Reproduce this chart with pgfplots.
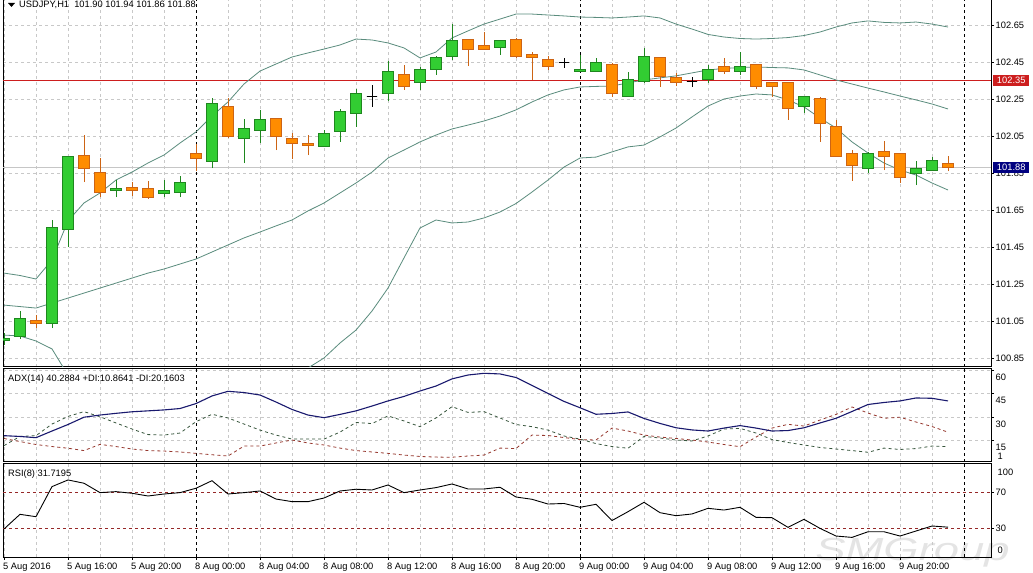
\documentclass[border=0pt]{standalone}
\usepackage{pgfplots}
\pgfplotsset{compat=1.18}
\usepackage{pgfplotstable}
\usepackage{fontspec}
\setmainfont{Liberation Sans}
\definecolor{gFill}{RGB}{50,205,50}
\definecolor{gDark}{RGB}{30,135,30}
\definecolor{oFill}{RGB}{255,140,0}
\definecolor{oDark}{RGB}{205,100,20}
\definecolor{band}{RGB}{90,140,125}
\definecolor{adxc}{RGB}{25,25,110}
\definecolor{pdic}{RGB}{55,85,60}
\definecolor{mdic}{RGB}{150,55,45}
\definecolor{lvl}{RGB}{150,40,40}
\definecolor{pline}{RGB}{205,30,30}
\definecolor{gridc}{RGB}{200,200,200}
\definecolor{navybox}{RGB}{0,0,128}
\definecolor{wmark}{RGB}{228,228,228}

\tikzset{
 wickG/.style={draw=gDark,line width=1bp},
 bodyG/.style={draw=gDark,fill=gFill,line width=1bp},
 wickO/.style={draw=oDark,line width=1bp},
 bodyO/.style={draw=oDark,fill=oFill,line width=1bp},
 wickD/.style={draw=black,line width=1bp},
 bodyD/.style={draw=black,line width=1bp},
}
% \cdl{index}{open}{high}{low}{close}{G|O|D}
\newcommand\cdl[6]{%
 \pgfmathsetmacro\xl{#1-0.32}\pgfmathsetmacro\xr{#1+0.32}%
 \edef\tmp{\noexpand\addplot[wick#6] coordinates {(#1,#4) (#1,#3)};%
 \noexpand\addplot[body#6] coordinates {(\xl,#2) (\xr,#2) (\xr,#5) (\xl,#5)} -- cycle;}%
 \tmp}

\pgfplotstableread{
i up mid lo
0 101.309 101.136 100.974
1 101.296 101.128 100.969
2 101.277 101.120 100.942
3 101.380 101.147 100.899
4 101.591 101.174 100.757
5 101.688 101.201 100.714
6 101.742 101.228 100.714
7 101.812 101.255 100.698
8 101.855 101.282 100.709
9 101.904 101.309 100.714
10 101.947 101.331 100.715
11 102.012 101.358 100.704
12 102.072 101.385 100.698
13 102.158 101.423 100.688
14 102.234 101.461 100.688
15 102.331 101.499 100.667
16 102.401 101.531 100.661
17 102.439 101.564 100.689
18 102.477 101.596 100.715
19 102.499 101.645 100.796
20 102.520 101.688 100.850
21 102.542 101.742 100.931
22 102.574 101.796 101.001
23 102.569 101.855 101.104
24 102.553 101.931 101.228
25 102.526 101.974 101.391
26 102.472 102.018 101.553
27 102.504 102.055 101.596
28 102.580 102.088 101.580
29 102.618 102.109 101.585
30 102.655 102.131 101.607
31 102.682 102.158 101.639
32 102.709 102.191 101.685
33 102.709 102.234 101.747
34 102.704 102.272 101.812
35 102.699 102.299 101.882
36 102.693 102.315 101.931
37 102.691 102.318 101.936
38 102.688 102.320 101.964
39 102.693 102.337 101.991
40 102.699 102.353 102.001
41 102.688 102.364 102.045
42 102.655 102.375 102.093
43 102.628 102.391 102.153
44 102.599 102.407 102.212
45 102.585 102.415 102.250
46 102.577 102.420 102.266
47 102.574 102.423 102.277
48 102.577 102.420 102.272
49 102.582 102.418 102.245
50 102.593 102.407 102.207
51 102.612 102.380 102.147
52 102.639 102.353 102.093
53 102.661 102.331 102.018
54 102.672 102.309 101.958
55 102.664 102.288 101.904
56 102.661 102.266 101.866
57 102.666 102.245 101.839
58 102.655 102.223 101.796
59 102.639 102.196 101.758
}\bands

\pgfplotstableread{
i adx pdi mdi
0 17.9 11.5 16.1
1 17.4 17.4 14.1
2 16.6 17.9 12.2
3 20.9 25.4 10.9
4 25.1 30.3 9.8
5 29.8 33.4 8.3
6 31.2 30.1 12.3
7 32.3 26.1 10.9
8 33.3 22.2 9.3
9 33.9 18.6 8.3
10 34.5 18.3 8.0
11 35.4 19.6 7.4
12 38.6 26.9 6.5
13 43.5 31.7 5.6
14 46.5 29.3 4.8
15 45.7 25.4 11.2
16 44.1 21.5 11.2
17 39.6 18.3 13.2
18 34.8 15.7 15.1
19 31.2 15.7 13.2
20 29.5 15.7 11.9
21 31.6 20.2 9.9
22 33.9 26.4 8.3
23 37.0 25.7 7.4
24 40.3 30.6 6.5
25 43.2 27.4 5.4
26 46.7 23.7 4.5
27 49.9 29.3 4.1
28 54.5 36.6 4.0
29 57.0 32.9 4.8
30 58.1 33.4 5.4
31 57.7 29.3 9.9
32 55.4 25.1 9.6
33 50.3 23.7 18.3
34 45.1 21.5 18.0
35 40.0 17.7 16.7
36 35.9 15.7 15.4
37 31.7 12.8 15.1
38 32.2 10.9 22.8
39 33.2 9.8 20.9
40 29.0 17.4 18.3
41 25.8 16.4 17.0
42 23.0 15.1 16.1
43 21.6 14.5 15.1
44 20.9 17.7 13.8
45 22.8 22.2 12.2
46 24.4 22.6 10.8
47 22.8 19.6 17.0
48 20.9 15.4 22.8
49 21.2 13.5 25.2
50 23.0 11.9 24.1
51 26.1 10.3 28.0
52 29.1 9.3 31.6
53 33.5 8.3 36.4
54 38.0 7.2 32.5
55 39.3 9.9 29.1
56 40.3 9.0 29.8
57 42.2 9.6 26.7
58 42.0 11.2 23.8
59 40.29 10.86 20.16
}\adxdata

\pgfplotstableread{
i rsi
0 29.7
1 45.8
2 43.2
3 76.2
4 83.5
5 79.9
6 69.6
7 70.7
8 68.9
9 65.9
10 68.1
11 69.6
12 74.4
13 82.7
14 68.1
15 69.6
16 71.4
17 62.6
18 59.7
19 59.7
20 63.7
21 71.4
22 73.3
23 72.5
24 78.0
25 69.6
26 72.5
27 75.1
28 79.1
29 73.6
30 73.6
31 75.5
32 64.8
33 62.3
34 57.1
35 57.7
36 53.5
37 56.8
38 39.0
39 48.7
40 59.0
41 47.6
42 44.3
43 46.2
44 52.4
45 50.5
46 53.5
47 42.5
48 42.1
49 31.5
50 40.3
51 30.4
52 22.0
53 20.5
54 26.7
55 26.7
56 22.0
57 27.5
58 33.0
59 31.72
}\rsidata

\pgfplotsset{mt/.style={
  scale only axis, width=988bp, xmin=-0.0625, xmax=61.6875,
  axis line style={black,line width=1bp},
  grid style={gridc, dash pattern=on 3bp off 3bp, line width=0.7bp},
  minor grid style={gridc, dash pattern=on 3bp off 3bp, line width=0.7bp},
  xtick={0,4,...,56}, minor xtick={2,6,...,58},
  xmajorgrids, xminorgrids,
  ytick pos=right, yticklabel pos=right,
  tick align=outside, major tick length=3bp, minor tick length=0pt,
  tick style={black, line width=0.7bp},
  tick label style={font=\fontsize{9.3bp}{10bp}\selectfont, text=black},
  yticklabel style={anchor=west, inner sep=0pt, xshift=1.5bp},
  clip=true,
}}
\newcommand\seps[2]{%
 \addplot[black, dash pattern=on 3bp off 3bp, line width=0.8bp] coordinates {(12,#1) (12,#2)};
 \addplot[black, dash pattern=on 3bp off 3bp, line width=0.8bp] coordinates {(36,#1) (36,#2)};
 \addplot[black, dash pattern=on 3bp off 3bp, line width=0.8bp] coordinates {(60,#1) (60,#2)};}

\begin{document}
\begin{tikzpicture}[font=\fontsize{9.3bp}{10bp}\selectfont]
\useasboundingbox (0,0) rectangle (1033bp,573bp);
\fill[white] (0,0) rectangle (1033bp,573bp);
\node[anchor=base west, inner sep=0pt, text=wmark, font=\fontsize{32bp}{32bp}\selectfont\itshape, xscale=1.42] at (815bp,13bp) {SMGroup};

% ---------------- main price panel
\begin{axis}[mt, at={(3bp,206bp)}, anchor=south west, height=367bp,
  ymin=100.8014, ymax=102.7851, ymajorgrids,
  ytick={100.85,101.05,101.25,101.45,101.65,101.85,102.05,102.25,102.45,102.65},
  yticklabels={100.85,101.05,101.25,101.45,101.65,101.85,102.05,102.25,102.45,102.65},
  xticklabels={}, xtick style={draw=none}]
\seps{100.8014}{102.7851}
\addplot[gray!45, line width=0.8bp] coordinates {(-0.0625,101.88) (61.6875,101.88)};
\addplot[pline, line width=1bp] coordinates {(-0.0625,102.35) (61.6875,102.35)};
\addplot[band, line width=0.8bp] table[x=i,y=up]{\bands};
\addplot[band, line width=0.8bp] table[x=i,y=mid]{\bands};
\addplot[band, line width=0.8bp] table[x=i,y=lo]{\bands};
\cdl{0}{100.942}{100.985}{100.920}{100.958}{G}
\cdl{1}{100.964}{101.104}{100.953}{101.066}{G}
\cdl{2}{101.055}{101.082}{101.012}{101.039}{O}
\cdl{3}{101.034}{101.596}{101.012}{101.553}{G}
\cdl{4}{101.542}{101.942}{101.450}{101.937}{G}
\cdl{5}{101.942}{102.055}{101.801}{101.872}{O}
\cdl{6}{101.855}{101.931}{101.720}{101.742}{O}
\cdl{7}{101.753}{101.812}{101.720}{101.764}{G}
\cdl{8}{101.774}{101.801}{101.726}{101.753}{O}
\cdl{9}{101.764}{101.807}{101.710}{101.720}{O}
\cdl{10}{101.737}{101.812}{101.720}{101.753}{G}
\cdl{11}{101.742}{101.834}{101.720}{101.801}{G}
\cdl{12}{101.953}{102.007}{101.861}{101.926}{O}
\cdl{13}{101.910}{102.255}{101.877}{102.223}{G}
\cdl{14}{102.212}{102.255}{102.039}{102.045}{O}
\cdl{15}{102.034}{102.142}{101.904}{102.093}{G}
\cdl{16}{102.077}{102.191}{102.012}{102.137}{G}
\cdl{17}{102.142}{102.147}{101.974}{102.045}{O}
\cdl{18}{102.034}{102.066}{101.926}{102.007}{O}
\cdl{19}{102.012}{102.055}{101.947}{102.001}{O}
\cdl{20}{101.991}{102.082}{101.991}{102.066}{G}
\cdl{21}{102.072}{102.196}{102.018}{102.185}{G}
\cdl{22}{102.174}{102.304}{102.099}{102.282}{G}
\cdl{23}{102.266}{102.326}{102.207}{102.266}{D}
\cdl{24}{102.282}{102.455}{102.239}{102.396}{G}
\cdl{25}{102.385}{102.434}{102.299}{102.320}{O}
\cdl{26}{102.337}{102.423}{102.299}{102.407}{G}
\cdl{27}{102.407}{102.482}{102.380}{102.472}{G}
\cdl{28}{102.477}{102.655}{102.461}{102.564}{G}
\cdl{29}{102.574}{102.574}{102.428}{102.520}{O}
\cdl{30}{102.537}{102.612}{102.520}{102.520}{O}
\cdl{31}{102.531}{102.564}{102.488}{102.564}{G}
\cdl{32}{102.574}{102.580}{102.472}{102.477}{O}
\cdl{33}{102.493}{102.504}{102.353}{102.472}{O}
\cdl{34}{102.466}{102.482}{102.407}{102.428}{O}
\cdl{35}{102.445}{102.472}{102.418}{102.445}{D}
\cdl{36}{102.401}{102.488}{102.401}{102.412}{G}
\cdl{37}{102.401}{102.472}{102.396}{102.445}{G}
\cdl{38}{102.434}{102.445}{102.261}{102.282}{O}
\cdl{39}{102.266}{102.396}{102.266}{102.358}{G}
\cdl{40}{102.347}{102.526}{102.337}{102.482}{G}
\cdl{41}{102.472}{102.472}{102.315}{102.369}{O}
\cdl{42}{102.364}{102.391}{102.320}{102.337}{O}
\cdl{43}{102.342}{102.369}{102.315}{102.342}{D}
\cdl{44}{102.353}{102.434}{102.337}{102.412}{G}
\cdl{45}{102.423}{102.472}{102.385}{102.396}{O}
\cdl{46}{102.401}{102.504}{102.380}{102.423}{G}
\cdl{47}{102.434}{102.434}{102.304}{102.320}{O}
\cdl{48}{102.337}{102.342}{102.261}{102.320}{O}
\cdl{49}{102.337}{102.337}{102.137}{102.199}{O}
\cdl{50}{102.207}{102.261}{102.174}{102.261}{G}
\cdl{51}{102.255}{102.261}{102.018}{102.115}{O}
\cdl{52}{102.104}{102.137}{101.937}{101.937}{O}
\cdl{53}{101.953}{101.974}{101.807}{101.888}{O}
\cdl{54}{101.877}{101.964}{101.850}{101.953}{G}
\cdl{55}{101.964}{102.023}{101.866}{101.937}{O}
\cdl{56}{101.953}{101.953}{101.796}{101.828}{O}
\cdl{57}{101.845}{101.915}{101.785}{101.872}{G}
\cdl{58}{101.861}{101.937}{101.861}{101.915}{G}
\cdl{59}{101.90}{101.94}{101.86}{101.88}{O}
\coordinate (redpt) at (axis cs:61.6875,102.35);
\coordinate (bidpt) at (axis cs:61.6875,101.88);
\end{axis}
\node[fill=pline, text=white, anchor=west, inner sep=0pt, minimum width=36bp, minimum height=11bp] at ([xshift=2bp]redpt) {102.35};
\node[fill=navybox, text=white, anchor=west, inner sep=0pt, minimum width=36bp, minimum height=11bp] at ([xshift=2bp]bidpt) {101.88};
\fill[black] (8bp,570bp) -- (15bp,570bp) -- (11.5bp,566bp) -- cycle;
\node[anchor=base west, inner sep=0pt] at (19bp,565.5bp) {USDJPY,H1\ \ 101.90 101.94 101.86 101.88};

% ---------------- ADX panel
\begin{axis}[mt, at={(3bp,111.1bp)}, anchor=south west, height=93.4bp,
  ymin=1, ymax=61.2, ymajorgrids,
  ytick={60,45,30,15}, yticklabels={60,45,30,15},
  yticklabel style={yshift=-7bp},
  xticklabels={}, xtick style={draw=none}]
\seps{1}{61.2}
\addplot[pdic, dash pattern=on 3bp off 3bp, line width=0.8bp] table[x=i,y=pdi]{\adxdata};
\addplot[mdic, dash pattern=on 3bp off 3bp, line width=0.8bp] table[x=i,y=mdi]{\adxdata};
\addplot[adxc, line width=1.1bp] table[x=i,y=adx]{\adxdata};
\coordinate (adxone) at (axis cs:61.6875,1);
\end{axis}
\node[anchor=west, inner sep=0pt] at ([xshift=6.5bp,yshift=6bp]adxone) {1};
\node[anchor=base west, inner sep=0pt] at (8bp,191.3bp) {ADX(14) 40.2884 +DI:10.8641 -DI:20.1603};

% ---------------- RSI panel
\begin{axis}[mt, at={(3bp,16bp)}, anchor=south west, height=93bp,
  ymin=-1, ymax=101,
  ytick={70,30}, yticklabels={70,30},
  xtick pos=bottom,
  xticklabels={5 Aug 2016,5 Aug 16:00,5 Aug 20:00,8 Aug 00:00,8 Aug 04:00,8 Aug 08:00,8 Aug 12:00,8 Aug 16:00,8 Aug 20:00,9 Aug 00:00,9 Aug 04:00,9 Aug 08:00,9 Aug 12:00,9 Aug 16:00,9 Aug 20:00},
  xticklabel style={anchor=north west, inner sep=0pt, xshift=-1bp, yshift=-3bp}]
\seps{-1}{101}
\addplot[lvl, dash pattern=on 3bp off 3bp, line width=0.8bp] coordinates {(-0.0625,70) (61.6875,70)};
\addplot[lvl, dash pattern=on 3bp off 3bp, line width=0.8bp] coordinates {(-0.0625,30) (61.6875,30)};
\addplot[black, line width=0.9bp] table[x=i,y=rsi]{\rsidata};
\coordinate (rsitop) at (axis cs:61.6875,100);
\coordinate (rsibot) at (axis cs:61.6875,0);
\end{axis}
\node[anchor=west, inner sep=0pt] at ([xshift=6.5bp,yshift=-7bp]rsitop) {100};
\node[anchor=west, inner sep=0pt] at ([xshift=6.5bp,yshift=6bp]rsibot) {0};
\node[anchor=base west, inner sep=0pt] at (8bp,96bp) {RSI(8) 31.7195};
\end{tikzpicture}
\end{document}
